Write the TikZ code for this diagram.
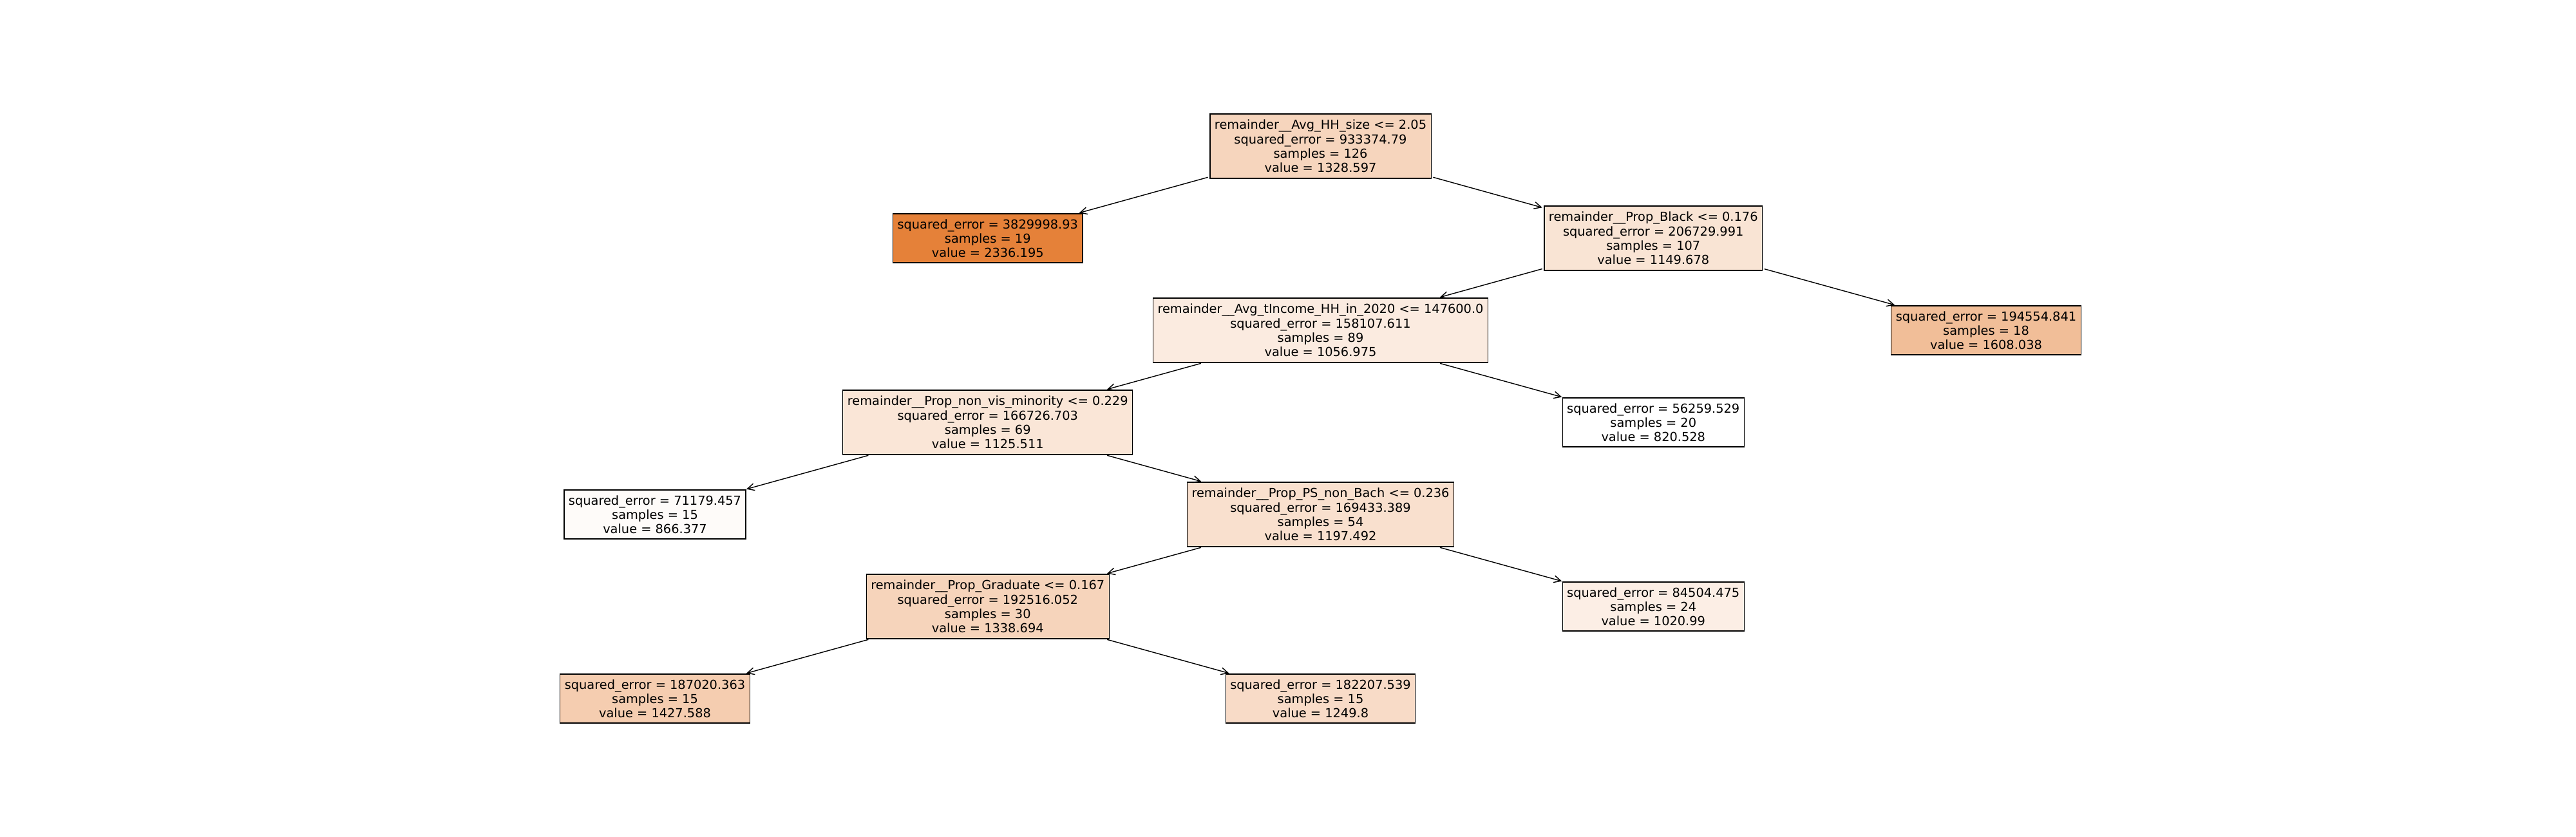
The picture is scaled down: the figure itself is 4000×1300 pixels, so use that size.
\documentclass[tikz,border=0pt]{standalone}
\usepackage{fontspec}
\setmainfont{DejaVu Sans}
\usetikzlibrary{arrows.meta}
\definecolor{cA}{RGB}{246,213,189}
\definecolor{cB}{RGB}{229,129,57}
\definecolor{cC}{RGB}{249,228,212}
\definecolor{cD}{RGB}{251,235,224}
\definecolor{cE}{RGB}{241,190,152}
\definecolor{cF}{RGB}{250,230,215}
\definecolor{cG}{RGB}{255,255,255}
\definecolor{cH}{RGB}{254,251,249}
\definecolor{cI}{RGB}{249,224,206}
\definecolor{cJ}{RGB}{252,238,229}
\definecolor{cK}{RGB}{246,212,187}
\definecolor{cL}{RGB}{245,205,176}
\definecolor{cM}{RGB}{248,219,199}
\begin{document}
\begin{tikzpicture}[x=0.025cm,y=-0.025cm,
  tnode/.style={draw=black, line width=0.8pt, align=center, inner xsep=0.175cm, inner ysep=0pt,
    font=\fontsize{13.77}{15.8}\selectfont},
  split/.style={tnode, minimum height=2.5cm},
  leaf/.style={tnode, minimum height=1.9cm},
  edge/.style={-{Straight Barb[length=0.27cm,width=0.27cm]}, line width=1pt, shorten >=2pt, shorten <=2pt}]
\useasboundingbox (0,0) rectangle (4000,1300);
\node[split, fill=cA] (root) at (2050.5,227) {remainder\_\_Avg\_HH\_size <= 2.05\\squared\_error = 933374.79\\samples = 126\\value = 1328.597};
\node[leaf, fill=cB] (lA) at (1533.75,370) {squared\_error = 3829998.93\\samples = 19\\value = 2336.195};
\node[split, fill=cC] (pb) at (2567.25,370) {remainder\_\_Prop\_Black <= 0.176\\squared\_error = 206729.991\\samples = 107\\value = 1149.678};
\node[split, fill=cD] (ai) at (2050.5,513) {remainder\_\_Avg\_tIncome\_HH\_in\_2020 <= 147600.0\\squared\_error = 158107.611\\samples = 89\\value = 1056.975};
\node[leaf, fill=cE] (lB) at (3084,513) {squared\_error = 194554.841\\samples = 18\\value = 1608.038};
\node[split, fill=cF] (pnv) at (1533.75,656) {remainder\_\_Prop\_non\_vis\_minority <= 0.229\\squared\_error = 166726.703\\samples = 69\\value = 1125.511};
\node[leaf, fill=cG] (lC) at (2567.25,656) {squared\_error = 56259.529\\samples = 20\\value = 820.528};
\node[leaf, fill=cH] (lD) at (1017,799) {squared\_error = 71179.457\\samples = 15\\value = 866.377};
\node[split, fill=cI] (ps) at (2050.5,799) {remainder\_\_Prop\_PS\_non\_Bach <= 0.236\\squared\_error = 169433.389\\samples = 54\\value = 1197.492};
\node[split, fill=cK] (pg) at (1533.75,942) {remainder\_\_Prop\_Graduate <= 0.167\\squared\_error = 192516.052\\samples = 30\\value = 1338.694};
\node[leaf, fill=cJ] (lE) at (2567.25,942) {squared\_error = 84504.475\\samples = 24\\value = 1020.99};
\node[leaf, fill=cL] (lF) at (1017,1085) {squared\_error = 187020.363\\samples = 15\\value = 1427.588};
\node[leaf, fill=cM] (lG) at (2050.5,1085) {squared\_error = 182207.539\\samples = 15\\value = 1249.8};
\draw[edge] (root) -- (lA);
\draw[edge] (root) -- (pb);
\draw[edge] (pb) -- (ai);
\draw[edge] (pb) -- (lB);
\draw[edge] (ai) -- (pnv);
\draw[edge] (ai) -- (lC);
\draw[edge] (pnv) -- (lD);
\draw[edge] (pnv) -- (ps);
\draw[edge] (ps) -- (pg);
\draw[edge] (ps) -- (lE);
\draw[edge] (pg) -- (lF);
\draw[edge] (pg) -- (lG);
\end{tikzpicture}
\end{document}
